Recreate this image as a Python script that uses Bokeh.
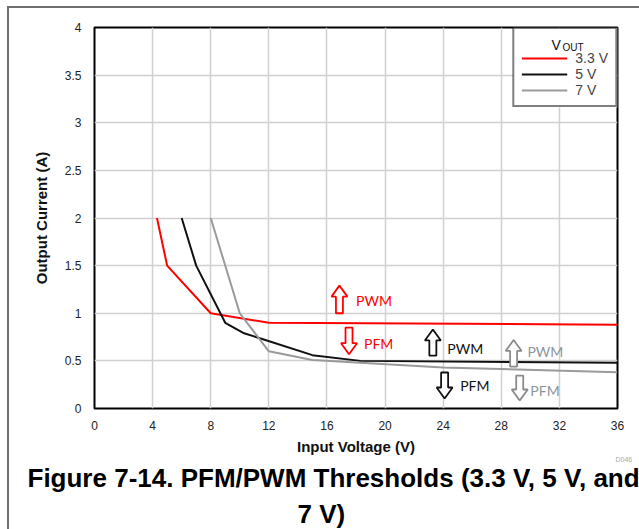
from bokeh.plotting import figure
from bokeh.models import Range1d, Legend, LegendItem, ColumnDataSource, FixedTicker, Title
from bokeh.core.properties import value
from bokeh.embed import file_html
from bokeh.resources import INLINE

# ---------------- data ----------------
series_names = ["3.3 V", "5 V", "7 V"]
v_red = [4.3, 5.0, 8.0, 12.0, 36.0]
i_red = [2.0, 1.5, 1.0, 0.9, 0.88]
v_black = [6.0, 7.0, 9.0, 10.3, 15.0, 18.3, 36.0]
i_black = [2.0, 1.5, 0.9, 0.79, 0.56, 0.50, 0.48]
v_gray = [8.0, 10.0, 12.0, 15.0, 24.0, 36.0]
i_gray = [2.0, 1.0, 0.6, 0.51, 0.43, 0.38]

x_ticks = [0, 4, 8, 12, 16, 20, 24, 28, 32, 36]
y_ticks = [0, 0.5, 1, 1.5, 2, 2.5, 3, 3.5, 4]
y_tick_labels = ["0", "0.5", "1", "1.5", "2", "2.5", "3", "3.5", "4"]

# mode-threshold arrows (annotation anchors)
arrow_x = [16.86, 17.52, 23.29, 24.10, 28.85, 29.27]
arrow_base = [1.00, 0.85, 0.556, 0.378, 0.44, 0.346]
arrow_tip = [1.29, 0.57, 0.83, 0.105, 0.72, 0.084]
mode_text = ["PWM", "PFM", "PWM", "PFM", "PWM", "PFM"]
mode_x = [18.0, 18.55, 24.28, 25.17, 29.8, 30.0]
mode_y = [1.134, 0.68, 0.63, 0.24, 0.60, 0.19]

RED, BLACK, GRAY = "#ff0000", "#111111", "#9a9a9a"
arrow_colors = [RED, RED, BLACK, BLACK, "#8a8a8a", "#8a8a8a"]
text_colors = [RED, RED, BLACK, BLACK, "#8c96a0", "#8c96a0"]

FONT = "Liberation Sans"

# ---------------- figure ----------------
W, H = 639, 529
ML, MR, MT, MB = 94, 22, 27, 121
p = figure(width=W, height=H, output_backend="svg", toolbar_location=None,
           x_range=Range1d(0, 36), y_range=Range1d(0, 4),
           min_border_left=ML, min_border_right=MR, min_border_top=MT, min_border_bottom=MB)
p.styles = {"box-shadow": "inset 7px 6px 0 0 #ffffff, inset 9px 8px 0 0 #707070",
            "background-color": "#ffffff"}

fw, fh = W - ML - MR, H - MT - MB
dxpp = 36.0 / fw
dypp = 4.0 / fh


def px2x(px):
    return (px - ML) * dxpp


def px2y(py):
    return ((MT + fh) - py) * dypp


p.outline_line_color = "black"
p.outline_line_width = 2
p.background_fill_color = "white"
p.border_fill_alpha = 0

for ax in (p.xaxis[0], p.yaxis[0]):
    ax.axis_line_color = None
    ax.major_tick_line_color = None
    ax.minor_tick_line_color = None
    ax.major_label_text_font = FONT
    ax.major_label_text_font_size = "12px"
    ax.major_label_text_color = "#222222"
    ax.axis_label_text_font = FONT
    ax.axis_label_text_font_size = "15px"
    ax.axis_label_text_font_style = "bold"
    ax.axis_label_text_color = "#111111"

p.xaxis.ticker = FixedTicker(ticks=x_ticks)
p.yaxis.ticker = FixedTicker(ticks=y_ticks)
p.yaxis.major_label_overrides = {t: s for t, s in zip(y_ticks, y_tick_labels)}
p.xaxis.axis_label = "Input Voltage (V)"
p.yaxis.axis_label = "Output Current (A)"
p.xaxis.major_label_standoff = 6
p.yaxis.major_label_standoff = 7
p.xaxis.axis_label_standoff = 5
p.yaxis.axis_label_standoff = 12

p.grid.grid_line_color = "#d0d0d0"
p.grid.grid_line_width = 1.5

# ---------------- legend background + title (under the legend frame) ----------------
p.quad(left=[px2x(513)], right=[36], bottom=[px2y(107)], top=[4],
       fill_color="white", line_color=None)
p.text(x=[px2x(551)], y=[px2y(44)], text=["V"], text_font=value(FONT),
       text_font_size="14px", text_color="#111111", text_baseline="alphabetic")
p.text(x=[px2x(562)], y=[px2y(47)], text=["OUT"], text_font=value(FONT),
       text_font_size="10px", text_color="#111111", text_baseline="alphabetic")

# ---------------- curves ----------------
r_red = p.line(v_red, i_red, line_color=RED, line_width=2)
r_black = p.line(v_black, i_black, line_color=BLACK, line_width=2)
r_gray = p.line(v_gray, i_gray, line_color=GRAY, line_width=2)

# ---------------- arrows ----------------
hw, sw, hl = 8 * dxpp, 3.5 * dxpp, 11 * dypp
xs, ys = [], []
for x, b, t in zip(arrow_x, arrow_base, arrow_tip):
    d = 1 if t > b else -1
    neck = t - d * hl
    xs.append([x - sw, x + sw, x + sw, x + hw, x, x - hw, x - sw])
    ys.append([b, b, neck, neck, t, neck, neck])
p.patches(xs, ys, fill_color="white", line_color=arrow_colors, line_width=1.8)

src = ColumnDataSource(dict(x=mode_x, y=mode_y, t=mode_text, c=text_colors))
p.text("x", "y", text="t", text_color="c", source=src, text_font=value("Lato"),
       text_font_size="14px", text_baseline="middle", text_align="left")

# ---------------- legend ----------------
legend = Legend(items=[LegendItem(label=series_names[0], renderers=[r_red]),
                       LegendItem(label=series_names[1], renderers=[r_black]),
                       LegendItem(label=series_names[2], renderers=[r_gray])],
                location="top_right", margin=0, padding=7, title=" ",
                title_text_font_size="12px", title_standoff=0,
                label_text_font=FONT, label_text_font_size="14px",
                label_height=16, glyph_height=16, glyph_width=46,
                label_standoff=8, spacing=0,
                border_line_color="black", border_line_width=2,
                background_fill_alpha=0)
p.add_layout(legend)

# ---------------- caption / id ----------------
p.add_layout(Title(text="D046", align="left", offset=615 - ML, standoff=-10,
                   text_font=FONT, text_font_size="7px", text_font_style="normal",
                   text_color="#aaaaaa"), "below")
p.add_layout(Title(text="Figure 7-14. PFM/PWM Thresholds (3.3 V, 5 V, and",
                   align="left", offset=27 - ML, standoff=7,
                   text_font=FONT, text_font_size="26px", text_font_style="bold",
                   text_color="#000000"), "below")
p.add_layout(Title(text="7 V)", align="left", offset=297 - ML, standoff=0,
                   text_font=FONT, text_font_size="26px", text_font_style="bold",
                   text_color="#000000"), "below")

open("out.html", "w").write(file_html(p, INLINE))
